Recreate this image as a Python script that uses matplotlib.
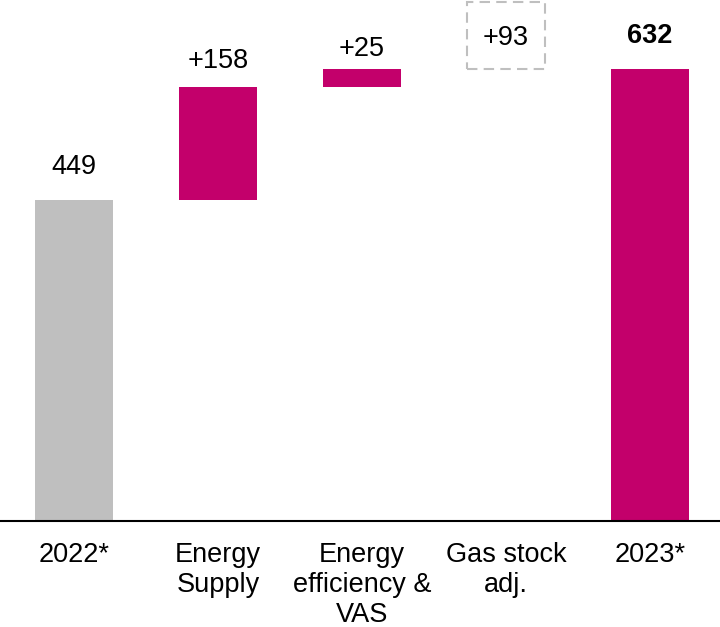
import matplotlib.pyplot as plt

plt.rcParams['font.family'] = ['Liberation Sans', 'DejaVu Sans']

categories = ['2022*', 'Energy\nSupply', 'Energy\nefficiency &\nVAS', 'Gas stock\nadj.', '2023*']
start_value = 449
steps = [158, 25]
gas_adj = 93
end_value = 632

magenta = '#C3006B'
grey = '#BFBFBF'

fig, ax = plt.subplots(figsize=(7.2, 6.27), dpi=100)
fig.subplots_adjust(left=0, right=1, bottom=0.169, top=1.0)

w = 0.54

# opening total
ax.bar(0, start_value, width=w, color=grey)

# floating steps
bottoms = [start_value, start_value + steps[0]]
for i, (b, s) in enumerate(zip(bottoms, steps), start=1):
    ax.bar(i, s, bottom=b, width=w, color=magenta)

# gas stock adjustment shown as an outlined box only
ax.bar(3, gas_adj, bottom=end_value, width=w, fill=False,
       edgecolor=grey, linestyle=(0, (5, 3)), linewidth=1.5, clip_on=False)

# closing total
ax.bar(4, end_value, width=w, color=magenta)

fs = 19.5
ax.annotate(str(start_value), (0, start_value), xytext=(0, 14), textcoords='offset points',
            ha='center', va='bottom', fontsize=fs)
ax.annotate('+%d' % steps[0], (1, start_value + steps[0]), xytext=(0, 9),
            textcoords='offset points', ha='center', va='bottom', fontsize=fs)
ax.annotate('+%d' % steps[1], (2, end_value), xytext=(0, 5),
            textcoords='offset points', ha='center', va='bottom', fontsize=fs)
ax.text(3, end_value + gas_adj / 2 - 3, '+%d' % gas_adj, ha='center', va='center', fontsize=fs)
ax.annotate(str(end_value), (4, end_value), xytext=(0, 14), textcoords='offset points',
            ha='center', va='bottom', fontsize=fs, fontweight='bold')

ax.set_xlim(-0.514, 4.486)
ax.set_ylim(0, 728)
ax.set_xticks(range(len(categories)))
ax.set_xticklabels(categories, fontsize=fs, linespacing=1.2)
ax.tick_params(axis='x', length=0, pad=15)
ax.set_yticks([])
for side in ['top', 'right', 'left']:
    ax.spines[side].set_visible(False)
ax.spines['bottom'].set_linewidth(1.5)

plt.savefig('out.png', dpi=100)
